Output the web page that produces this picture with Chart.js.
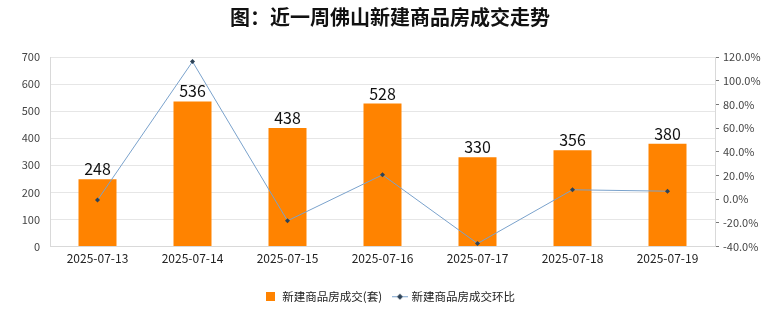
<!DOCTYPE html>
<html>
<head>
<meta charset="utf-8">
<script src="https://cdn.jsdelivr.net/npm/chart.js@4/dist/chart.umd.min.js"></script>
<style>
  html, body { margin: 0; padding: 0; background: #fff; }
  #wrap { width: 780px; height: 328px; }
</style>
</head>
<body>
<div id="wrap"><canvas id="chart" width="780" height="328"></canvas></div>
<script>
// 近一周佛山新建商品房成交
const dates = ['2025-07-13', '2025-07-14', '2025-07-15', '2025-07-16', '2025-07-17', '2025-07-18', '2025-07-19'];
const dealCounts = [248, 536, 438, 528, 330, 356, 380];
const dealChange = [-0.8, 116.1, -18.3, 20.5, -37.5, 7.9, 6.7];
const barLabel = '新建商品房成交(套)';
const lineLabel = '新建商品房成交环比';

const FONT = '"Noto Sans CJK SC", "Noto Sans", sans-serif';
const BAR_COLOR = '#ff8300';
const LINE_COLOR = '#7aa2cc';
const POINT_COLOR = '#2d4257';

// legend icons
function squareIcon() {
    const c = document.createElement('canvas');
    c.width = 9; c.height = 9;
    const ctx = c.getContext('2d');
    ctx.fillStyle = BAR_COLOR;
    ctx.fillRect(0, 0, 9, 9);
    return c;
}
function lineIcon() {
    const c = document.createElement('canvas');
    c.width = 16; c.height = 8;
    const ctx = c.getContext('2d');
    ctx.strokeStyle = LINE_COLOR;
    ctx.lineWidth = 1;
    ctx.beginPath();
    ctx.moveTo(0, 4.5); ctx.lineTo(16, 4.5);
    ctx.stroke();
    ctx.fillStyle = POINT_COLOR;
    ctx.beginPath();
    ctx.moveTo(8, 1.5); ctx.lineTo(11, 4.5); ctx.lineTo(8, 7.5); ctx.lineTo(5, 4.5);
    ctx.closePath();
    ctx.fill();
    return c;
}

// 柱顶数值
const barValues = {
    id: 'barValues',
    afterDatasetsDraw(chart) {
        const ctx = chart.ctx;
        const meta = chart.getDatasetMeta(0);
        ctx.save();
        ctx.font = '16px ' + FONT;
        ctx.fillStyle = '#111';
        ctx.textAlign = 'center';
        ctx.textBaseline = 'bottom';
        meta.data.forEach((bar, i) => {
            ctx.fillText(String(dealCounts[i]), bar.x, bar.y - 2);
        });
        ctx.restore();
    }
};

new Chart(document.getElementById('chart'), {
    type: 'bar',
    data: {
        labels: dates,
        datasets: [{
            type: 'bar',
            label: barLabel,
            data: dealCounts,
            backgroundColor: BAR_COLOR,
            barPercentage: 0.4,
            categoryPercentage: 1.0,
            yAxisID: 'y',
            order: 2
        }, {
            type: 'line',
            label: lineLabel,
            data: dealChange,
            borderColor: LINE_COLOR,
            borderWidth: 1,
            pointStyle: 'rectRot',
            pointRadius: 2.5,
            pointBackgroundColor: POINT_COLOR,
            pointBorderColor: POINT_COLOR,
            pointBorderWidth: 0,
            tension: 0,
            yAxisID: 'y1',
            order: 1
        }]
    },
    options: {
        responsive: false,
        animation: false,
        layout: { padding: { left: 0, right: 0, top: 0, bottom: 16 } },
        plugins: {
            title: {
                display: true,
                text: '图：近一周佛山新建商品房成交走势',
                color: '#111',
                font: { family: FONT, size: 20, weight: 'bold' },
                padding: { top: 5, bottom: 28 }
            },
            legend: {
                position: 'bottom',
                labels: {
                    usePointStyle: true,
                    color: '#222',
                    font: { family: FONT, size: 11.5 },
                    padding: 12,
                    generateLabels() {
                        return [
                            { text: barLabel, pointStyle: squareIcon(), datasetIndex: 0, fontColor: '#222', lineWidth: 0 },
                            { text: lineLabel, pointStyle: lineIcon(), datasetIndex: 1, fontColor: '#222', lineWidth: 0 }
                        ];
                    }
                }
            },
            tooltip: { enabled: false }
        },
        scales: {
            x: {
                grid: { display: false, drawTicks: false },
                border: { color: '#d9d9d9' },
                ticks: { color: '#222', font: { family: FONT, size: 12 }, padding: 5 },
                afterFit(scale) { scale.height = 32; }
            },
            y: {
                position: 'left',
                min: 0,
                max: 700,
                ticks: { stepSize: 100, color: '#444', font: { family: FONT, size: 11 }, padding: 10 },
                grid: { color: '#e6e6e6', drawTicks: false },
                border: { color: '#d9d9d9' },
                afterFit(scale) { scale.width = 50; }
            },
            y1: {
                position: 'right',
                min: -40,
                max: 120,
                ticks: {
                    stepSize: 10,
                    color: '#444',
                    font: { family: FONT, size: 11 },
                    padding: 4,
                    callback: v => (v % 20 === 0 ? v.toFixed(1) + '%' : '')
                },
                grid: { drawOnChartArea: false, drawTicks: true, tickLength: 4, color: '#777' },
                border: { color: '#d9d9d9' },
                afterFit(scale) { scale.width = 65; }
            }
        }
    },
    plugins: [barValues]
});
</script>
</body>
</html>
